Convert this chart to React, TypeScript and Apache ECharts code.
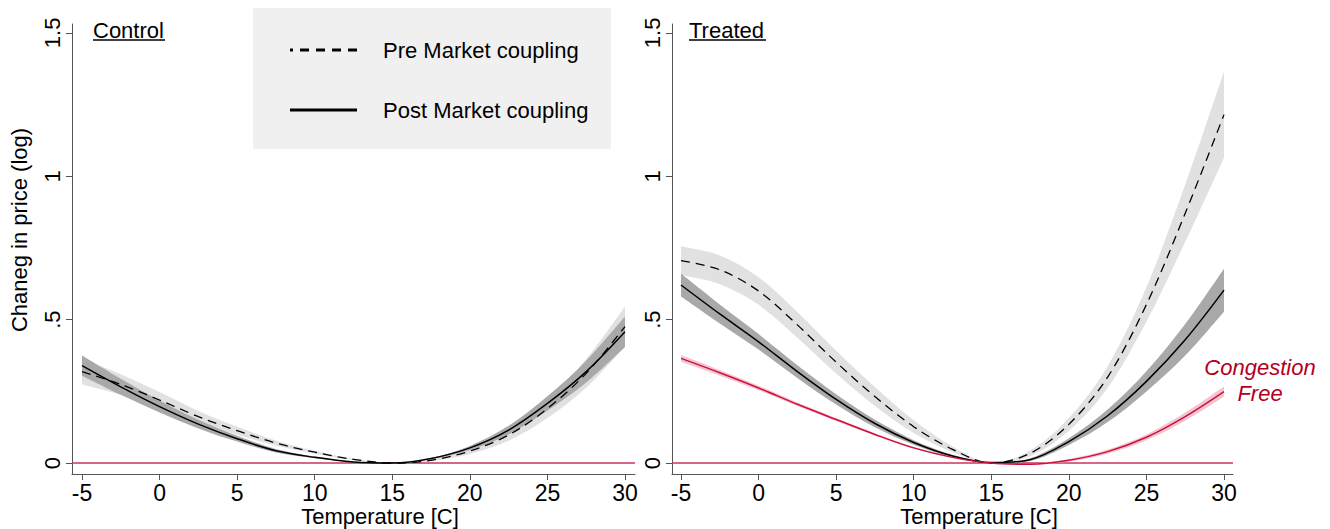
import React, { useEffect, useRef } from "react";
import * as echarts from "echarts";

// ---------- data ----------
const temps = [-5, -2.5, 0, 2.5, 5, 7.5, 10, 12.5, 15, 17.5, 20, 22.5, 25, 27.5, 30];
const xTicks = [-5, 0, 5, 10, 15, 20, 25, 30];
const yTicks = [0, 0.5, 1, 1.5];
const yTickLabels = ["0", ".5", "1", "1.5"];

// Control panel
const controlPre = [0.319, 0.274, 0.22, 0.162, 0.113, 0.07, 0.038, 0.013, 0.0, 0.01, 0.042, 0.098, 0.19, 0.313, 0.476];
const controlPreCI = [0.045, 0.036, 0.028, 0.02, 0.014, 0.009, 0.005, 0.002, 0.0, 0.003, 0.01, 0.02, 0.033, 0.05, 0.07];
const controlPost = [0.34, 0.266, 0.197, 0.136, 0.085, 0.043, 0.02, 0.004, 0.0, 0.016, 0.053, 0.115, 0.208, 0.319, 0.458];
const controlPostCI = [0.035, 0.028, 0.021, 0.015, 0.01, 0.006, 0.003, 0.001, 0.0, 0.002, 0.007, 0.015, 0.025, 0.038, 0.053];

// Treated panel
const treatedPre = [0.706, 0.674, 0.6, 0.482, 0.352, 0.232, 0.127, 0.048, 0.0, 0.034, 0.135, 0.3, 0.553, 0.871, 1.215];
const treatedPreCI = [0.05, 0.05, 0.048, 0.045, 0.04, 0.033, 0.022, 0.01, 0.0, 0.01, 0.022, 0.038, 0.06, 0.1, 0.15];
const treatedPost = [0.621, 0.52, 0.423, 0.319, 0.222, 0.138, 0.072, 0.025, 0.002, 0.012, 0.075, 0.165, 0.285, 0.43, 0.603];
const treatedPostCI = [0.04, 0.033, 0.027, 0.022, 0.018, 0.013, 0.008, 0.004, 0.0, 0.005, 0.012, 0.022, 0.035, 0.055, 0.075];
const congestionFree = [0.365, 0.315, 0.262, 0.205, 0.152, 0.1, 0.053, 0.02, 0.0, -0.004, 0.01, 0.04, 0.09, 0.162, 0.249];
const congestionFreeCI = [0.012, 0.01, 0.008, 0.006, 0.005, 0.004, 0.003, 0.002, 0.0, 0.002, 0.004, 0.007, 0.01, 0.014, 0.018];

const panelTitles = ["Control", "Treated"];
const legendLabels = ["Pre Market coupling", "Post Market coupling"];
const xTitle = "Temperature [C]";
const yTitle = "Chaneg in price (log)";
const redLabel = ["Congestion", "Free"];

// ---------- styles ----------
const FONT = '"Liberation Sans", Arial, Helvetica, sans-serif';
const AXIS_COLOR = "#555";
const LIGHT_BAND = "#e1e1e1";
const DARK_BAND = "#a9a9a9";
const RED_BAND = "#f3c5d0";
const RED_LINE = "#d0103a";
const ZERO_LINE = "#c8365a";
const RED_TEXT = "#b40020";
const SMOOTH = 1 / 3;

// Catmull-Rom style bezier through pixel points
function curvePath(pts: number[][], move: boolean) {
  let d = move ? `M${pts[0][0]},${pts[0][1]}` : `L${pts[0][0]},${pts[0][1]}`;
  const n = pts.length;
  for (let i = 0; i < n - 1; i++) {
    const p0 = pts[Math.max(i - 1, 0)];
    const p1 = pts[i];
    const p2 = pts[i + 1];
    const p3 = pts[Math.min(i + 2, n - 1)];
    const c1x = p1[0] + (p2[0] - p0[0]) * SMOOTH * 0.5;
    const c1y = p1[1] + (p2[1] - p0[1]) * SMOOTH * 0.5;
    const c2x = p2[0] - (p3[0] - p1[0]) * SMOOTH * 0.5;
    const c2y = p2[1] - (p3[1] - p1[1]) * SMOOTH * 0.5;
    d += ` C${c1x},${c1y} ${c2x},${c2y} ${p2[0]},${p2[1]}`;
  }
  return d;
}

function bandSeries(idx: number, center: number[], half: number[], color: string, z: number) {
  return {
    type: "custom",
    xAxisIndex: idx,
    yAxisIndex: idx,
    silent: true,
    z,
    data: temps.map((t, i) => [t, center[i] - half[i], center[i] + half[i]]),
    encode: { x: 0, y: [1, 2] },
    renderItem: (params: any, api: any) => {
      if (params.dataIndex !== 0) return null;
      const upper = temps.map((t, i) => api.coord([t, center[i] + half[i]]));
      const lower = temps.map((t, i) => api.coord([t, center[i] - half[i]])).reverse();
      const d = curvePath(upper, true) + " " + curvePath(lower, false) + " Z";
      return { type: "path", shape: { pathData: d }, style: { fill: color, stroke: null } };
    },
  };
}

function curveSeries(idx: number, values: number[], color: string, width: number, type: any, z: number, withZero = false) {
  const s: any = {
    type: "line",
    xAxisIndex: idx,
    yAxisIndex: idx,
    symbol: "none",
    smooth: SMOOTH,
    silent: true,
    z,
    data: temps.map((t, i) => [t, values[i]]),
    lineStyle: { color, width, type },
  };
  if (withZero) {
    s.markLine = {
      silent: true,
      symbol: "none",
      label: { show: false },
      lineStyle: { color: ZERO_LINE, width: 1.5, type: "solid" },
      data: [{ yAxis: 0 }],
      z: 1,
    };
  }
  return s;
}

function yLabel(v: number) {
  const i = yTicks.findIndex((t) => Math.abs(t - v) < 1e-9);
  return i >= 0 ? yTickLabels[i] : "";
}

const grids = [
  { left: 72, top: 24, width: 563, height: 450, xMin: -5.645, xMax: 30.645 },
  { left: 672, top: 24, width: 561, height: 450, xMin: -5.58, xMax: 30.58 },
];

export default function App() {
  const ref = useRef<HTMLDivElement>(null);
  useEffect(() => {
    if (!ref.current) return;
    const chart = echarts.init(ref.current, undefined, { renderer: "svg" });

    const xAxes = grids.map((g, i) => ({
      gridIndex: i,
      type: "value",
      min: g.xMin,
      max: g.xMax,
      axisLine: { show: true, onZero: false, lineStyle: { color: AXIS_COLOR, width: 1 } },
      axisTick: { show: true, customValues: xTicks, length: 6, lineStyle: { color: AXIS_COLOR } },
      axisLabel: { customValues: xTicks, fontSize: 23, color: "#000", fontFamily: FONT, margin: 7 },
      splitLine: { show: false },
    }));
    const yAxes = grids.map((g, i) => ({
      gridIndex: i,
      type: "value",
      min: -0.038,
      max: 1.531,
      axisLine: { show: true, onZero: false, lineStyle: { color: AXIS_COLOR, width: 1 } },
      axisTick: { show: true, customValues: yTicks, length: 6, lineStyle: { color: AXIS_COLOR } },
      axisLabel: { customValues: yTicks, rotate: 90, fontSize: 22, color: "#000", fontFamily: FONT, margin: 9, formatter: yLabel },
      splitLine: { show: false },
    }));

    const series: any[] = [
      bandSeries(0, controlPre, controlPreCI, LIGHT_BAND, 2),
      bandSeries(0, controlPost, controlPostCI, DARK_BAND, 3),
      curveSeries(0, controlPre, "#000", 1.3, [9, 6], 6, true),
      curveSeries(0, controlPost, "#000", 1.5, "solid", 7),
      bandSeries(1, treatedPre, treatedPreCI, LIGHT_BAND, 2),
      bandSeries(1, treatedPost, treatedPostCI, DARK_BAND, 3),
      bandSeries(1, congestionFree, congestionFreeCI, RED_BAND, 4),
      curveSeries(1, treatedPre, "#000", 1.3, [9, 6], 6, true),
      curveSeries(1, treatedPost, "#000", 1.5, "solid", 7),
      curveSeries(1, congestionFree, RED_LINE, 1.5, "solid", 8),
    ];

    const txt = (text: string, x: number, y: number, extra: any = {}) => ({
      type: "text",
      x,
      y,
      silent: true,
      style: { text, fontFamily: FONT, fontSize: 22, fill: "#000", align: "left", verticalAlign: "middle", ...extra },
    });

    const graphic: any[] = [
      // legend box
      { type: "rect", shape: { x: 253, y: 8, width: 358, height: 141 }, style: { fill: "#f0f0f0" }, silent: true, z: 10 },
      { type: "line", shape: { x1: 290, y1: 50, x2: 357, y2: 50 }, style: { stroke: "#000", lineWidth: 3, lineDash: [9, 7], lineDashOffset: 6 }, silent: true, z: 11 },
      { type: "line", shape: { x1: 290, y1: 110, x2: 357, y2: 110 }, style: { stroke: "#000", lineWidth: 3 }, silent: true, z: 11 },
      { ...txt(legendLabels[0], 383, 50), z: 11 },
      { ...txt(legendLabels[1], 383, 110), z: 11 },
      // panel titles
      { ...txt(panelTitles[0], 93, 30), z: 11 },
      { type: "line", shape: { x1: 93, y1: 40, x2: 165, y2: 40 }, style: { stroke: "#000", lineWidth: 1.5 }, silent: true, z: 11 },
      { ...txt(panelTitles[1], 689, 30), z: 11 },
      { type: "line", shape: { x1: 689, y1: 40, x2: 766, y2: 40 }, style: { stroke: "#000", lineWidth: 1.5 }, silent: true, z: 11 },
      // axis titles
      { ...txt(yTitle, 19, 230, { align: "center" }), rotation: Math.PI / 2, z: 11 },
      { ...txt(xTitle, 380, 516, { align: "center" }), z: 11 },
      { ...txt(xTitle, 979, 516, { align: "center" }), z: 11 },
      // congestion free label
      { ...txt(redLabel[0], 1260, 367, { align: "center", fontStyle: "italic", fill: RED_TEXT }), z: 11 },
      { ...txt(redLabel[1], 1260, 393, { align: "center", fontStyle: "italic", fill: RED_TEXT }), z: 11 },
    ];

    chart.setOption({
      animation: false,
      backgroundColor: "#ffffff",
      grid: grids.map((g) => ({ left: g.left, top: g.top, width: g.width, height: g.height, containLabel: false })),
      xAxis: xAxes,
      yAxis: yAxes,
      series,
      graphic,
    });
    return () => chart.dispose();
  }, []);
  return <div ref={ref} style={{ position: "fixed", left: 0, top: 0, width: 1330, height: 529, background: "#fff" }} />;
}
